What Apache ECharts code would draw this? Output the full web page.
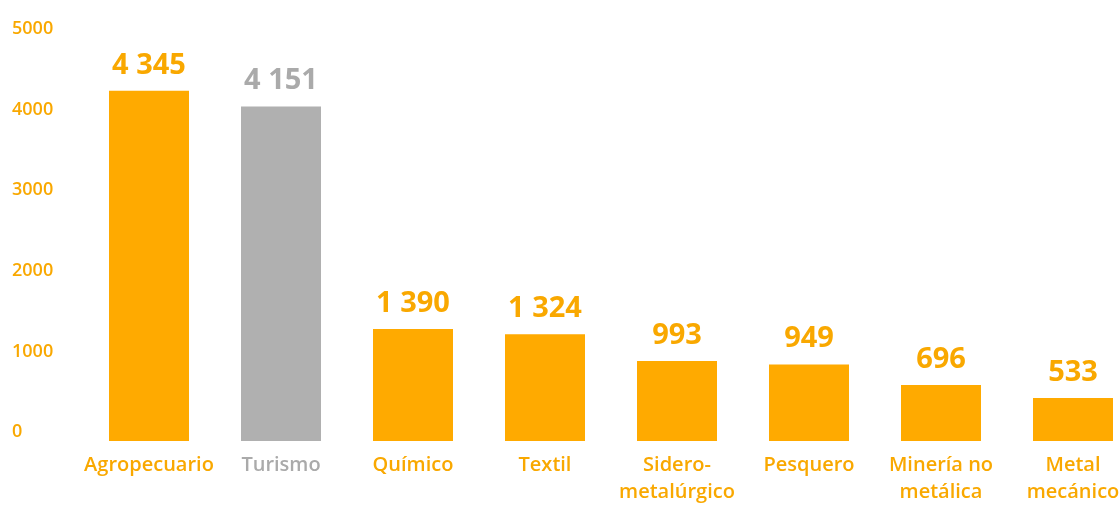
<!DOCTYPE html>
<html><head><meta charset="utf-8">
<script src="https://cdn.jsdelivr.net/npm/echarts@6/dist/echarts.min.js"></script>
<style>html,body{margin:0;padding:0;background:#fff}#c{width:1119px;height:505px}</style>
</head><body><div id="c"></div>
<script>
var categories = ["Agropecuario","Turismo","Químico","Textil","Sidero-\nmetalúrgico","Pesquero","Minería no\nmetálica","Metal\nmecánico"];
var values = [4345, 4151, 1390, 1324, 993, 949, 696, 533];
var highlightIndex = 1;
var ORANGE = "#FFAA00", GRAY = "#B0B0B0", LABEL_ORANGE = "#F9A800", LABEL_GRAY = "#AAAAAA";
var font = "Open Sans";
function fmt(v){ return String(v).replace(/\B(?=(\d{3})+(?!\d))/g, " "); }
var chart = echarts.init(document.getElementById('c'), null, {renderer:'canvas'});
chart.setOption({
  animation:false,
  grid:{left:83, top:38, right:-20, bottom:64, containLabel:false, outerBoundsMode:'none'},
  xAxis:{type:'category', data:categories,
    axisLine:{show:false}, axisTick:{show:false},
    axisLabel:{margin:11, fontFamily:font, fontSize:20, fontWeight:600, lineHeight:27, interval:0,
      color:function(v, i){ return i===highlightIndex ? LABEL_GRAY : LABEL_ORANGE; }}},
  yAxis:{type:'value', min:0, max:5000, interval:1000,
    splitLine:{show:false}, axisLine:{show:false}, axisTick:{show:false},
    axisLabel:{align:'left', margin:71, verticalAlign:'bottom', fontFamily:font, fontSize:18, fontWeight:600, color:LABEL_ORANGE,
      formatter:function(v){ return String(v); }}},
  series:[{type:'bar', barWidth:80,
    data: values.map(function(v,i){ return {value:v, itemStyle:{color: i===highlightIndex?GRAY:ORANGE},
      label:{color: i===highlightIndex?LABEL_GRAY:LABEL_ORANGE}}; }),
    label:{show:true, position:'top', distance:11, fontFamily:font, fontWeight:'bold', fontSize:29,
      formatter:function(p){ return fmt(p.value); }}
  }]
});
</script></body></html>
